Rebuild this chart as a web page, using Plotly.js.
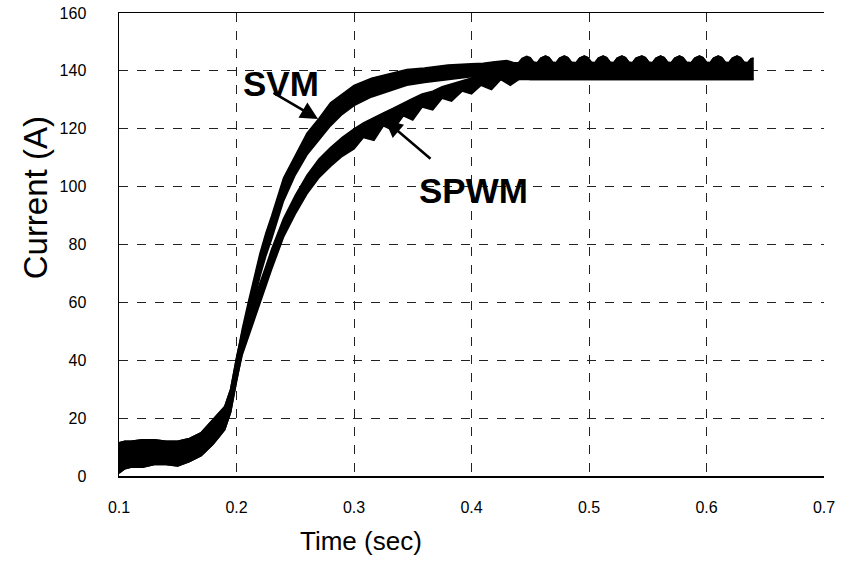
<!DOCTYPE html>
<html>
<head>
<meta charset="utf-8">
<script src="https://cdn.plot.ly/plotly-3.0.1.min.js"></script>
<style>html,body{margin:0;padding:0;background:#fff;}#chart{width:850px;height:578px;}</style>
</head>
<body>
<div id="chart"></div>
<script>
// SVM current envelope (rise)
const svmTime  = [0.100,0.105,0.110,0.120,0.130,0.140,0.150,0.160,0.170,0.180,0.185,0.190,0.195,0.200,0.205,0.210,0.215,0.220,0.225,0.230,0.240,0.250,0.260,0.270,0.280,0.290,0.300,0.315,0.330,0.345,0.360,0.380,0.400];
const svmUpper = [11.5,12,12,12.5,12.5,12,12,13,15,19.5,21.5,24,30,41,51,60,69,77,84,90,103,111,118.5,123.5,129,132,135,137.5,139,140.5,141,142,142.5];
const svmLower = [1,2.5,3,3,4,4,3.5,5,7,11,13.5,16,22,33,43,52,61,69,76,82,95,104,111,116,121,125,128,131,133,135,136,137,138];

// SPWM current envelope (rise, with ripple teeth)
const spwmTime  = [0.100,0.105,0.110,0.120,0.130,0.140,0.150,0.160,0.170,0.180,0.185,0.190,0.195,0.200,0.205,0.210,0.215,0.220,0.225,0.230,0.240,0.250,0.260,0.270,0.280,0.290,0.300,0.308,0.317,0.325,0.333,0.342,0.350,0.358,0.367,0.375,0.383,0.392,0.400,0.408,0.417,0.425,0.433,0.442,0.450];
const spwmUpper = [11.5,12,12,12.5,12.5,12,12,13,15,19.5,21.5,24,30,41,50,56,61,66.5,72.5,78.5,89,97,104,109.5,113.5,117,120,122,124,125.5,127,129,130.5,132,133,134.5,135.5,136.5,137.5,138.5,139,140,140.5,141,142];
const spwmLower = [1,2.5,3,3,4,4,3.5,5,7,11,13.5,16,22,33,42,48,54,59.5,65.5,71.5,82.5,90.5,97.5,103,107,110.5,113,117,116,121,119.5,124.5,123,127.5,126.5,130.5,129.5,133,132,135,133.5,137,135,137.5,137];

// Steady state (both modulations overlap): flat top with rounded ripple bumps
const steadyTime  = [0.410,0.420,0.430,0.436,
  0.440,0.443,0.447,0.450,0.453, 0.456,0.459,0.463,0.466,0.469, 0.472,0.475,0.479,0.482,0.485,
  0.489,0.492,0.496,0.499,0.502, 0.505,0.508,0.512,0.515,0.518, 0.521,0.524,0.528,0.531,0.534,
  0.537,0.540,0.545,0.548,0.551, 0.554,0.557,0.561,0.564,0.567, 0.570,0.573,0.577,0.580,0.583,
  0.587,0.590,0.594,0.597,0.600, 0.603,0.606,0.610,0.613,0.616, 0.619,0.622,0.626,0.629,0.632,
  0.635,0.638,0.640];
const steadyUpper = [142.6,143.2,143.6,142.8,
  142.8,144.3,145,144.6,143, 142.8,144.4,145.1,144.6,143, 142.8,144.4,145.1,144.6,143,
  142.8,144.4,145.1,144.6,143, 142.8,144.4,145.1,144.6,143, 142.8,144.4,145.1,144.6,143,
  142.8,144.4,145.1,144.6,143, 142.8,144.4,145.1,144.6,143, 142.8,144.4,145.1,144.6,143,
  142.8,144.4,145.1,144.6,143, 142.8,144.4,145.1,144.6,143, 142.8,144.4,145.1,144.6,143,
  142.8,144.2,144.4];
const steadyLower = steadyTime.map(() => 137);

const xTicks = [0.1,0.2,0.3,0.4,0.5,0.6,0.7];
const yTicks = [0,20,40,60,80,100,120,140,160];

function joined(t, u, l) {
  const start = t[t.length - 1];
  const tt = t.slice(), uu = u.slice(), ll = l.slice();
  for (let i = 0; i < steadyTime.length; i++) {
    if (steadyTime[i] > start) { tt.push(steadyTime[i]); uu.push(steadyUpper[i]); ll.push(steadyLower[i]); }
  }
  return {t: tt, u: uu, l: ll};
}
const svm = joined(svmTime, svmUpper, svmLower);
const spwm = joined(spwmTime, spwmUpper, spwmLower);

const lineStyle = {color: '#000', width: 1.5};
const data = [
  {x: svm.t, y: svm.l, mode: 'lines', line: lineStyle, name: 'SVM low', hoverinfo: 'skip'},
  {x: svm.t, y: svm.u, mode: 'lines', line: lineStyle, fill: 'tonexty', fillcolor: '#000', name: 'SVM'},
  {x: spwm.t, y: spwm.l, mode: 'lines', line: lineStyle, name: 'SPWM low', hoverinfo: 'skip'},
  {x: spwm.t, y: spwm.u, mode: 'lines', line: lineStyle, fill: 'tonexty', fillcolor: '#000', name: 'SPWM'}
];

const FONT = 'Arial, Liberation Sans, sans-serif';
const layout = {
  width: 850, height: 578,
  margin: {l: 119, r: 26, t: 13, b: 102},
  paper_bgcolor: '#fff', plot_bgcolor: '#fff',
  showlegend: false,
  font: {family: FONT, color: '#000'},
  xaxis: {
    range: [0.1, 0.7], tickvals: xTicks, ticktext: xTicks.map(v => v.toFixed(1)),
    showgrid: true, gridcolor: '#222', griddash: 'dash', gridwidth: 1,
    showline: true, linecolor: '#000', linewidth: 1.5, mirror: true,
    ticks: '', ticklabelstandoff: 16, tickfont: {size: 16},
    zeroline: false
  },
  yaxis: {
    range: [0, 160], tickvals: yTicks,
    showgrid: true, gridcolor: '#222', griddash: 'dash', gridwidth: 1,
    showline: true, linecolor: '#000', linewidth: 1.5,
    ticks: '', ticklabelstandoff: 28, tickfont: {size: 16},
    zeroline: false
  },
  annotations: [
    {x: 0.343, y: -0.140, xref: 'paper', yref: 'paper', showarrow: false, text: 'Time (sec)',
     xanchor: 'center', yanchor: 'middle', font: {size: 26, family: FONT, color: '#000'}},
    {x: -0.119, y: 0.600, xref: 'paper', yref: 'paper', showarrow: false, text: 'Current (A)',
     textangle: -90, xanchor: 'center', yanchor: 'middle', font: {size: 33, family: FONT, color: '#000'}},
    {x: 0.2694, y: 123.4, ax: 0.2302, ay: 132.7, xref: 'x', yref: 'y', axref: 'x', ayref: 'y',
     showarrow: true, arrowhead: 2, arrowsize: 1.4, arrowwidth: 2.5, arrowcolor: '#000', text: ''},
    {x: 0.3264, y: 123.0, ax: 0.3664, ay: 109.2, xref: 'x', yref: 'y', axref: 'x', ayref: 'y',
     showarrow: true, arrowhead: 2, arrowsize: 1.4, arrowwidth: 2.5, arrowcolor: '#000', text: ''},
    {x: 0.2379, y: 135.5, xref: 'x', yref: 'y', showarrow: false, text: '<b>SVM</b>',
     font: {size: 35, family: FONT, color: '#000'}},
    {x: 0.4013, y: 98.5, xref: 'x', yref: 'y', showarrow: false, text: '<b>SPWM</b>',
     font: {size: 35, family: FONT, color: '#000'}}
  ]
};

Plotly.newPlot('chart', data, layout, {displayModeBar: false, staticPlot: true});
</script>
</body>
</html>
